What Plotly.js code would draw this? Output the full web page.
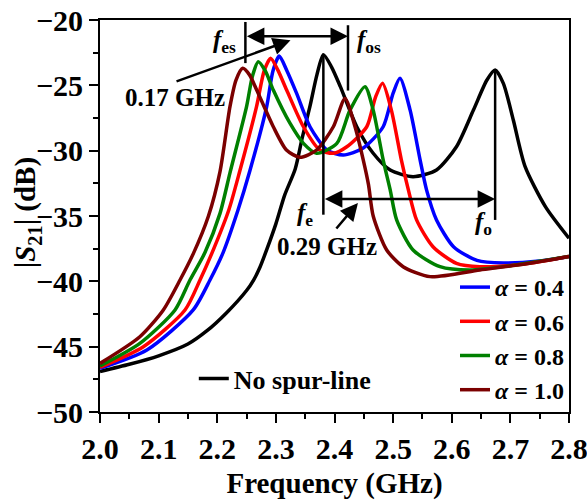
<!DOCTYPE html>
<html>
<head>
<meta charset="utf-8">
<script src="https://cdn.plot.ly/plotly-3.0.1.min.js"></script>
<style>html,body{margin:0;padding:0;background:#fff;}#chart{width:587px;height:500px;}</style>
</head>
<body>
<div id="chart"></div>
<script>
// ---- data ----
const blackF = [2.00,2.05,2.10,2.15,2.182,2.216,2.25,2.262,2.273,2.285,2.30,2.315,2.333,2.345,2.358,2.37,2.381,2.395,2.41,2.438,2.466,2.495,2.534,2.574,2.608,2.637,2.66,2.674,2.688,2.705,2.725,2.76,2.80];
const blackS = [-46.9,-46.35,-45.7,-44.8,-43.8,-42.4,-40.7,-39.9,-38.9,-37.5,-35.6,-33.4,-31.4,-29.0,-26.63,-24.2,-22.65,-23.6,-25.1,-28.17,-30.2,-31.48,-31.99,-31.48,-29.7,-26.89,-24.59,-23.83,-24.85,-27.65,-31.2,-34.3,-36.7];

const blueF = [2.00,2.08,2.159,2.1876,2.21,2.235,2.2559,2.2843,2.295,2.3057,2.318,2.3354,2.3582,2.387,2.415,2.449,2.483,2.50,2.5117,2.529,2.546,2.557,2.574,2.603,2.643,2.688,2.75,2.80];
const blueS = [-46.66,-45.26,-42.19,-39.9,-37.8,-34.6,-31.5,-26.63,-23.9,-22.76,-23.8,-25.61,-28.17,-29.95,-30.33,-29.8,-28.17,-25.6,-24.46,-26.9,-30.7,-33.0,-35.3,-37.35,-38.4,-38.6,-38.45,-38.1];

const redF = [2.00,2.074,2.145,2.1706,2.195,2.22,2.2388,2.267,2.28,2.291,2.303,2.3184,2.347,2.375,2.398,2.421,2.455,2.47,2.482,2.497,2.514,2.526,2.54,2.568,2.608,2.648,2.72,2.80];
const redS = [-46.58,-45.0,-42.19,-39.9,-37.4,-34.5,-31.5,-26.63,-23.9,-22.93,-23.8,-25.36,-28.17,-29.95,-30.2,-29.7,-28.17,-25.9,-24.85,-26.9,-30.7,-33.0,-35.3,-37.35,-38.62,-38.88,-38.7,-38.1];

const greenF = [2.00,2.068,2.128,2.1535,2.179,2.2047,2.2217,2.25,2.26,2.27,2.282,2.2956,2.324,2.347,2.3695,2.404,2.4264,2.452,2.466,2.483,2.495,2.506,2.534,2.58,2.631,2.70,2.80];
const greenS = [-46.48,-44.75,-42.19,-39.9,-37.8,-34.8,-31.7,-26.63,-24.3,-23.19,-23.9,-25.36,-27.9,-29.44,-30.2,-29.44,-26.9,-25.1,-26.9,-30.7,-33.0,-35.3,-37.6,-38.88,-39.13,-38.8,-38.1];

const maroonF = [2.00,2.068,2.108,2.1365,2.159,2.185,2.2047,2.2217,2.232,2.2434,2.255,2.2673,2.2956,2.318,2.341,2.3695,2.398,2.418,2.435,2.449,2.458,2.466,2.489,2.517,2.563,2.648,2.733,2.80];
const maroonS = [-46.28,-44.24,-42.19,-39.9,-37.9,-35.0,-31.6,-26.63,-24.6,-23.7,-24.2,-25.36,-28.17,-29.95,-30.51,-29.95,-28.17,-26.0,-28.17,-30.7,-32.6,-35.0,-37.6,-38.88,-39.64,-39.13,-38.62,-38.1];

const seriesNames = ['<i>α</i> = 0.4','<i>α</i> = 0.6','<i>α</i> = 0.8','<i>α</i> = 1.0'];
const blackName = 'No spur-line';
const xTicks = [2.0,2.1,2.2,2.3,2.4,2.5,2.6,2.7,2.8];
const yTicks = [-50,-45,-40,-35,-30,-25,-20];

// marker frequencies for annotations
const fes = 2.248, fos = 2.423, fe = 2.381, fo = 2.674;

// ---- styles ----
const FONT = 'Liberation Serif, Times New Roman, serif';
const colors = ['#0000ff','#ff0000','#008000','#7b0000'];
const xs = [blueF, redF, greenF, maroonF];
const ys = [blueS, redS, greenS, maroonS];

const traces = [];
traces.push({
  x: blackF, y: blackS, name: blackName, mode: 'lines',
  line: {color: '#000', width: 3.5, shape: 'spline', smoothing: 0.7},
  legend: 'legend2'
});
for (let i = 0; i < 4; i++) {
  traces.push({
    x: xs[i], y: ys[i], name: seriesNames[i], mode: 'lines',
    line: {color: colors[i], width: 3.5, shape: 'spline', smoothing: 0.7}
  });
}

const txtFont = {family: FONT, size: 25, color: '#000', weight: 'bold'};
const titleFont = {family: FONT, size: 29, color: '#000', weight: 'bold'};
const arrowCommon = {xref: 'x', yref: 'y', axref: 'x', ayref: 'y', text: '', showarrow: true,
  arrowcolor: '#000', arrowwidth: 2.5, arrowhead: 2, arrowsize: 1.4, startarrowhead: 2, startarrowsize: 1.4};

const annotations = [
  Object.assign({}, arrowCommon, {x: fos, y: -21.25, ax: fes, ay: -21.25, arrowside: 'end+start'}),
  Object.assign({}, arrowCommon, {x: fo, y: -33.7, ax: fe, ay: -33.7, arrowside: 'end+start'}),
  Object.assign({}, arrowCommon, {x: 2.325, y: -21.55, ax: 2.128, ay: -24.74}),
  Object.assign({}, arrowCommon, {x: 2.44, y: -34.0, ax: 2.401, ay: -36.07}),
  {xref: 'x', yref: 'y', x: 2.128, y: -25.9, text: '0.17 GHz', showarrow: false, font: txtFont},
  {xref: 'x', yref: 'y', x: 2.388, y: -37.35, text: '0.29 GHz', showarrow: false, font: txtFont},
  {xref: 'x', yref: 'y', x: 2.213, y: -21.65, text: '<i>f</i><sub>es</sub>', showarrow: false, font: txtFont},
  {xref: 'x', yref: 'y', x: 2.458, y: -21.65, text: '<i>f</i><sub>os</sub>', showarrow: false, font: txtFont},
  {xref: 'x', yref: 'y', x: 2.350, y: -34.9, text: '<i>f</i><sub>e</sub>', showarrow: false, font: txtFont},
  {xref: 'x', yref: 'y', x: 2.655, y: -35.6, text: '<i>f</i><sub>o</sub>', showarrow: false, font: txtFont},
  // y-axis title
  {xref: 'paper', yref: 'paper', x: -0.155, y: 0.508, xanchor: 'center', yanchor: 'middle', textangle: -90,
   text: '|<i>S</i><sub>21</sub>| (dB)', showarrow: false, font: titleFont}
];

const lineStyle = {color: '#000', width: 2.5};
const shapes = [
  {type: 'line', xref: 'x', yref: 'y', x0: fes, x1: fes, y0: -20.15, y1: -23.3, line: lineStyle},
  {type: 'line', xref: 'x', yref: 'y', x0: fos, x1: fos, y0: -20.4, y1: -25.4, line: lineStyle},
  {type: 'line', xref: 'x', yref: 'y', x0: fe, x1: fe, y0: -22.7, y1: -34.9, line: lineStyle},
  {type: 'line', xref: 'x', yref: 'y', x0: fo, x1: fo, y0: -23.9, y1: -35.3, line: lineStyle}
];

const axisCommon = {
  showgrid: false, zeroline: false, showline: true, linecolor: '#000', linewidth: 2, mirror: true,
  ticks: 'outside', ticklen: 9, tickwidth: 2, tickcolor: '#000', ticklabeloverflow: 'allow',
  tickfont: {family: FONT, size: 30, color: '#000', weight: 'bold'},
  minor: {ticks: 'outside', ticklen: 5, tickwidth: 2, tickcolor: '#000', showgrid: false}
};

const layout = {
  width: 587, height: 500,
  margin: {l: 100, r: 18, t: 20, b: 88},
  paper_bgcolor: '#fff', plot_bgcolor: '#fff',
  xaxis: Object.assign({}, axisCommon, {
    range: [2.0, 2.8], tickvals: xTicks, tickformat: '.1f',
    minor: Object.assign({}, axisCommon.minor, {dtick: 0.05, tick0: 2.0}),
    title: {text: 'Frequency (GHz)', font: titleFont, standoff: 11}
  }),
  yaxis: Object.assign({}, axisCommon, {
    range: [-50, -20], tickvals: yTicks,
    minor: Object.assign({}, axisCommon.minor, {dtick: 2.5, tick0: -50})
  }),
  showlegend: true,
  legend: {x: 1, xanchor: 'right', y: 0, yanchor: 'bottom', bgcolor: 'rgba(0,0,0,0)',
    font: {family: FONT, size: 24, color: '#000', weight: 'bold'}, tracegroupgap: 0},
  legend2: {x: 0.2, xanchor: 'left', y: 0.025, yanchor: 'bottom', bgcolor: 'rgba(0,0,0,0)',
    font: {family: FONT, size: 26, color: '#000', weight: 'bold'}},
  annotations: annotations,
  shapes: shapes
};

Plotly.newPlot('chart', traces, layout, {displayModeBar: false, staticPlot: true});
</script>
</body>
</html>
